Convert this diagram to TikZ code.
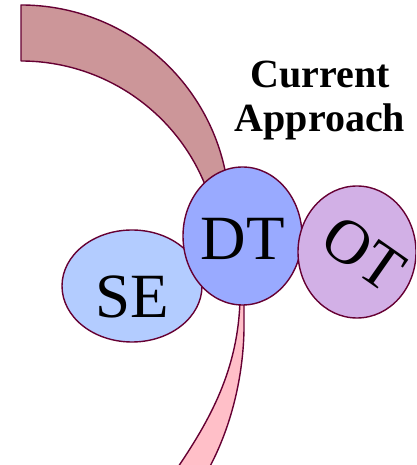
\documentclass[tikz,border=0pt]{standalone}
\usepackage{fontspec}
\setmainfont{Liberation Serif}
\usetikzlibrary{shapes.geometric,positioning}

\definecolor{rim}{HTML}{660033}
\definecolor{bandtop}{HTML}{CC9699}
\definecolor{bandlow}{HTML}{FFBFC8}
\definecolor{dtfill}{HTML}{99AAFF}
\definecolor{sefill}{HTML}{B3CCFF}
\definecolor{otfill}{HTML}{D2B0E6}

\begin{document}
\begin{tikzpicture}
[x=1pt, y=1pt,
% STYLES
% The band style is used for the two curved strips behind the ellipses
band/.style={draw=rim, line width=1.4pt, line join=round},
% The blob style is used for the three ellipses
blob/.style={ellipse, draw=rim, line width=1.4pt, inner sep=0pt},
bigtext/.style={inner sep=0pt, font=\fontsize{63}{70}\selectfont},
title/.style={inner sep=0pt, align=center, font=\fontsize{40}{44}\selectfont\bfseries}]

\useasboundingbox (0,0) rectangle (416,465);
\clip (0,0) rectangle (416,465);

% Draw bands
\draw [band, fill=bandtop] (21,460) arc (90:7:208.6) -- (210,266.7) arc (18:90:198.7) -- cycle;
\draw [band, fill=bandlow] (240,165) .. controls (238,95) and (210,45) .. (176,-5)
  -- (208,-5) .. controls (230,35) and (243,85) .. (244,135) -- (244,165) -- cycle;

% Draw ellipses
\node [blob, fill=sefill, minimum width=140, minimum height=112] (se) at (132,179) {};
\node [blob, fill=dtfill, minimum width=119, minimum height=138] (dt) at (242.5,229) {};
\node [blob, fill=otfill, minimum width=118, minimum height=132] (ot) at (357,213) {};

% Labels
\node [bigtext] (se-text) at ([yshift=-10.5]se.center) {SE};
\node [bigtext] (dt-text) at ([yshift=-2.5]dt.center) {DT};
\node [bigtext, rotate=-35] (ot-text) at ([xshift=6.5, yshift=-2]ot.center) {OT};

\node [title, anchor=north] (approach) at (320,404) {Current\\Approach};

\end{tikzpicture}
\end{document}
